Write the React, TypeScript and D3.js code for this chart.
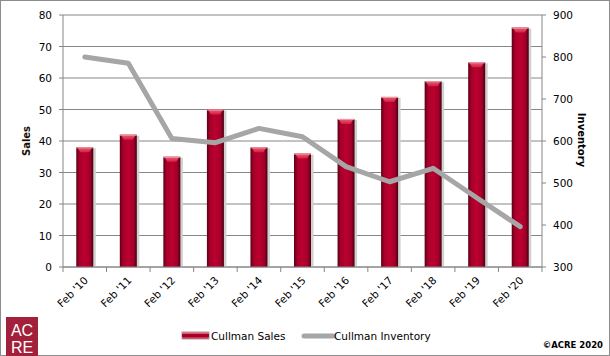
import React from "react";
import * as d3 from "d3";

const categories = ["Feb '10", "Feb '11", "Feb '12", "Feb '13", "Feb '14", "Feb '15", "Feb '16", "Feb '17", "Feb '18", "Feb '19", "Feb '20"];
const sales = [38, 42, 35, 50, 38, 36, 47, 54, 59, 65, 76];
const inventory = [800, 785, 606, 596, 630, 610, 539, 503, 535, 465, 396];
const leftTicks = [0, 10, 20, 30, 40, 50, 60, 70, 80];
const rightTicks = [300, 400, 500, 600, 700, 800, 900];

const W = 610, H = 356;
const L = 63, R = 542, T = 15, B = 267;
const FONT = "DejaVu Sans, Verdana, sans-serif";

export default function App() {
  const x = d3.scaleBand().domain(categories).range([L, R]).paddingInner(0).paddingOuter(0);
  const yL = d3.scaleLinear().domain([0, 80]).range([B, T]);
  const yR = d3.scaleLinear().domain([300, 900]).range([B, T]);
  const bw = 17;
  const line = d3.line<number>().x((_, i) => x(categories[i])! + x.bandwidth() / 2).y(d => yR(d));

  return (
    <svg width={W} height={H} style={{ position: "absolute", left: 0, top: 0 }} fontFamily={FONT}>
      <defs>
        <linearGradient id="barG" x1="0" x2="1" y1="0" y2="0">
          <stop offset="0" stopColor="#5a0012" />
          <stop offset="0.18" stopColor="#a5002a" />
          <stop offset="0.5" stopColor="#bd0030" />
          <stop offset="0.82" stopColor="#a0002a" />
          <stop offset="1" stopColor="#4a000e" />
        </linearGradient>
        <linearGradient id="capG" x1="0" x2="0" y1="0" y2="1">
          <stop offset="0" stopColor="#f0607a" />
          <stop offset="1" stopColor="#d0203f" />
        </linearGradient>
      </defs>
      <rect x={0.5} y={0.5} width={W - 1} height={H - 1} fill="#fff" stroke="#8c8c8c" />
      {leftTicks.map(t => (
        <line key={t} x1={L} x2={R} y1={yL(t)} y2={yL(t)} stroke="#868686" strokeWidth={1} />
      ))}
      {leftTicks.map(t => (
        <g key={"l" + t}>
          <line x1={L - 4} x2={L} y1={yL(t)} y2={yL(t)} stroke="#868686" />
          <text x={52} y={yL(t) + 4} textAnchor="end" fontSize={10.5} fill="#000">{t}</text>
        </g>
      ))}
      {rightTicks.map(t => (
        <g key={"r" + t}>
          <line x1={R} x2={R + 4} y1={yR(t)} y2={yR(t)} stroke="#868686" />
          <text x={553} y={yR(t) + 4} textAnchor="start" fontSize={10.5} fill="#000">{t}</text>
        </g>
      ))}
      {sales.map((v, i) => {
        const cx = x(categories[i])! + x.bandwidth() / 2;
        const y0 = yL(v);
        return (
          <g key={"b" + i}>
            <rect x={cx - bw / 2 + 1.5} y={y0 + 1} width={bw + 1} height={B - y0 - 1} fill="#d0d0d0" />
            <rect x={cx - bw / 2} y={y0} width={bw} height={B - y0} fill="url(#barG)" />
            <path d={`M${cx - bw / 2 + 1},${y0} L${cx + bw / 2 - 1},${y0} L${cx + bw / 2 - 4},${y0 + 5} L${cx - bw / 2 + 4},${y0 + 5} Z`} fill="url(#capG)" />
            <line x1={cx - bw / 2} x2={cx + bw / 2} y1={y0 + 0.5} y2={y0 + 0.5} stroke="#e8a0ac" strokeWidth={1} />
          </g>
        );
      })}
      <line x1={L} x2={L} y1={T} y2={B} stroke="#868686" />
      <line x1={R} x2={R} y1={T} y2={B} stroke="#868686" />
      <line x1={L} x2={R} y1={B} y2={B} stroke="#868686" />
      {categories.map((c, i) => (
        <line key={"xt" + i} x1={x(c)!} x2={x(c)!} y1={B} y2={B + 5} stroke="#868686" />
      ))}
      <line x1={R} x2={R} y1={B} y2={B + 5} stroke="#868686" />
      <path d={line(inventory)!} fill="none" stroke="#a6a6a6" strokeWidth={5} strokeLinejoin="round" strokeLinecap="round" />
      {categories.map((c, i) => {
        const cx = x(c)! + x.bandwidth() / 2 + 4;
        const cy = B + 14;
        return (
          <text key={"xl" + i} x={cx} y={cy} fontSize={10.5} textAnchor="end" transform={`rotate(-45,${cx},${cy})`}>{c}</text>
        );
      })}
      <text x={0} y={0} transform={`translate(30,141) rotate(-90)`} textAnchor="middle" fontSize={10} fontWeight="bold" fill="#1a0d00">Sales</text>
      <text x={0} y={0} transform={`translate(578,140) rotate(90)`} textAnchor="middle" fontSize={10} fontWeight="bold" fill="#000">Inventory</text>
      <rect x={182} y={332} width={27} height={7} fill="url(#capG)" stroke="#a0a0a0" />
      <rect x={182} y={334} width={27} height={3} fill="#a5002a" />
      <text x={211} y={340} fontSize={10.5} fill="#000">Cullman Sales</text>
      <line x1={304} x2={333} y1={336} y2={336} stroke="#a6a6a6" strokeWidth={5} strokeLinecap="round" />
      <text x={334} y={340} fontSize={10.5} fill="#000">Cullman Inventory</text>
      <text x={603} y={348} textAnchor="end" fontSize={8.5} fontWeight="bold" fill="#000">©ACRE 2020</text>
      <rect x={6} y={317} width={32} height={39} fill="#a3203a" />
      <text x={22} y={336} textAnchor="middle" fontSize={16} fill="#fff" fontFamily="Liberation Sans, Arial, sans-serif">AC</text>
      <text x={22} y={353} textAnchor="middle" fontSize={16} fill="#fff" fontFamily="Liberation Sans, Arial, sans-serif">RE</text>
    </svg>
  );
}
